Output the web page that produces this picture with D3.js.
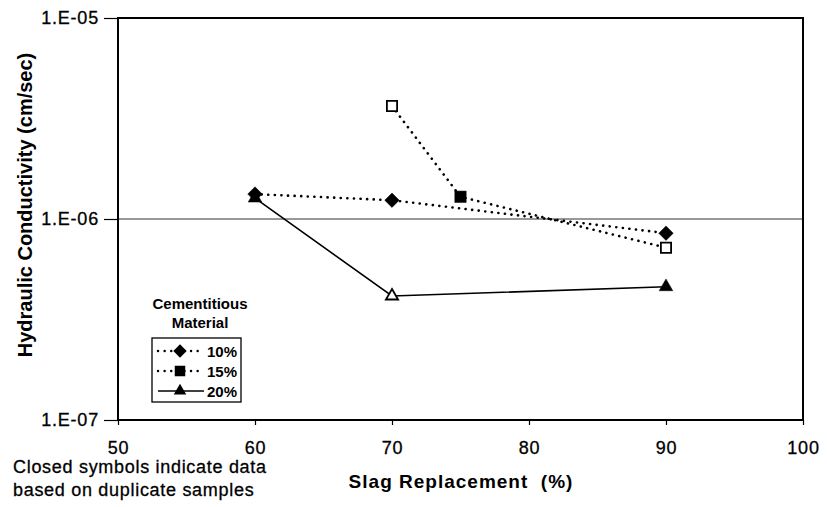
<!DOCTYPE html>
<html>
<head>
<meta charset="utf-8">
<script src="https://cdn.jsdelivr.net/npm/d3@7"></script>
<style>
  html, body { margin: 0; padding: 0; background: #fff; }
  svg { display: block; font-family: "Liberation Sans", Arial, sans-serif; }
</style>
</head>
<body>
<svg id="chart" width="827" height="507"></svg>
<script>
// Slag replacement level (%) for each series
const slag10 = [60, 70, 90];
const slag15 = [70, 75, 90];
const slag20 = [60, 70, 90];
// Hydraulic conductivity (cm/sec)
const k10 = [1.33e-6, 1.24e-6, 0.85e-6];
const k15 = [3.65e-6, 1.29e-6, 0.72e-6];
const k20 = [1.27e-6, 0.414e-6, 0.46e-6];
// Closed symbol = duplicate samples
const closed10 = [true, true, true];
const closed15 = [false, true, false];
const closed20 = [true, false, true];
const seriesNames = ["10%", "15%", "20%"];
const xTicks = [50, 60, 70, 80, 90, 100];
const yTicks = [1e-7, 1e-6, 1e-5];
const yTickLabels = ["1.E-07", "1.E-06", "1.E-05"];

const svg = d3.select("#chart");
const m = { left: 118, right: 803, top: 18, bottom: 420 };

const x = d3.scaleLinear().domain([50, 100]).range([m.left, m.right]);
const y = d3.scaleLog().domain([1e-7, 1e-5]).range([m.bottom, m.top]);

// gridline at 1E-06
svg.append("line")
  .attr("x1", m.left).attr("x2", m.right)
  .attr("y1", y(1e-6)).attr("y2", y(1e-6))
  .attr("stroke", "#333").attr("stroke-width", 1);

// plot frame
svg.append("rect")
  .attr("x", m.left).attr("y", m.top)
  .attr("width", m.right - m.left).attr("height", m.bottom - m.top)
  .attr("fill", "none").attr("stroke", "#000").attr("stroke-width", 2);

// y axis
const yAxis = d3.axisLeft(y).tickValues(yTicks)
  .tickFormat((d, i) => yTickLabels[i]).tickSize(14).tickPadding(5);
const gy = svg.append("g").attr("transform", `translate(${m.left},0)`).call(yAxis);
gy.select(".domain").remove();
gy.selectAll(".tick line").attr("stroke", "#000").attr("stroke-width", 1.2);
gy.selectAll(".tick text").attr("font-size", 18).attr("letter-spacing", 0.8)
  .attr("fill", "#000").attr("stroke", "#000").attr("stroke-width", 0.3);

// x axis
const xAxis = d3.axisBottom(x).tickValues(xTicks).tickSize(5).tickPadding(16);
const gx = svg.append("g").attr("transform", `translate(0,${m.bottom})`).call(xAxis);
gx.select(".domain").remove();
gx.selectAll(".tick line").attr("stroke", "#000").attr("stroke-width", 1.2);
gx.selectAll(".tick text").attr("font-size", 18).attr("letter-spacing", 0.8)
  .attr("fill", "#000").attr("stroke", "#000").attr("stroke-width", 0.3);

// axis titles
svg.append("text")
  .attr("transform", `translate(32,205) rotate(-90)`)
  .attr("text-anchor", "middle").attr("font-size", 20).attr("font-weight", "bold")
  .text("Hydraulic Conductivity (cm/sec)");
svg.append("text")
  .attr("x", 461).attr("y", 488).attr("text-anchor", "middle")
  .attr("font-size", 19).attr("font-weight", "bold").attr("letter-spacing", 1)
  .attr("xml:space", "preserve")
  .text("Slag Replacement  (%)");

// note below the axis
const note = svg.append("g").attr("font-size", 18).attr("letter-spacing", 0.7)
  .attr("stroke", "#000").attr("stroke-width", 0.3);
note.append("text").attr("x", 13).attr("y", 473).text("Closed symbols indicate data");
note.append("text").attr("x", 13).attr("y", 496).text("based on duplicate samples");

// rotated square for the diamond marker
const diamond = {
  draw(ctx, size) {
    const r = Math.sqrt(size) / Math.SQRT2;
    ctx.moveTo(0, -r); ctx.lineTo(r, 0); ctx.lineTo(0, r); ctx.lineTo(-r, 0); ctx.closePath();
  }
};

const series = [
  { xs: slag10, ks: k10, closed: closed10, sym: diamond, size: 105, dash: true },
  { xs: slag15, ks: k15, closed: closed15, sym: d3.symbolSquare, size: 130, dash: true },
  { xs: slag20, ks: k20, closed: closed20, sym: d3.symbolTriangle, size: 80, dash: false }
];

const line = d3.line().x(d => x(d[0])).y(d => y(d[1]));

series.forEach(s => {
  const pts = s.xs.map((v, i) => [v, s.ks[i], s.closed[i]]);
  svg.append("path").datum(pts).attr("d", line)
    .attr("fill", "none").attr("stroke", "#000")
    .attr("stroke-width", s.dash ? 2.6 : 1.6)
    .attr("stroke-dasharray", s.dash ? "0.1,6.5" : null)
    .attr("stroke-linecap", s.dash ? "round" : "butt");
  svg.selectAll(null).data(pts).enter().append("path")
    .attr("transform", d => `translate(${x(d[0])},${y(d[1])})`)
    .attr("d", d => d3.symbol().type(s.sym).size(d[2] ? s.size : s.size * 0.8)())
    .attr("fill", d => d[2] ? "#000" : "#fff")
    .attr("stroke", "#000").attr("stroke-width", d => d[2] ? 0.5 : 1.8);
});

// legend
const lg = svg.append("g");
lg.append("text").attr("x", 200).attr("y", 309).attr("text-anchor", "middle")
  .attr("font-size", 15).attr("font-weight", "bold").text("Cementitious");
lg.append("text").attr("x", 200).attr("y", 328).attr("text-anchor", "middle")
  .attr("font-size", 15).attr("font-weight", "bold").text("Material");
lg.append("rect").attr("x", 152).attr("y", 338).attr("width", 89).attr("height", 64)
  .attr("fill", "#fff").attr("stroke", "#000").attr("stroke-width", 1.3);
series.forEach((s, i) => {
  const yy = 351 + i * 20;
  lg.append("line").attr("x1", 158).attr("x2", 204).attr("y1", yy).attr("y2", yy)
    .attr("stroke", "#000").attr("stroke-width", s.dash ? 2.4 : 1.3)
    .attr("stroke-dasharray", s.dash ? "0.1,6.5" : null)
    .attr("stroke-linecap", s.dash ? "round" : "butt");
  lg.append("path").attr("transform", `translate(180,${yy})`)
    .attr("d", d3.symbol().type(s.sym).size(s.size * 0.85)()).attr("fill", "#000");
  lg.append("text").attr("x", 207).attr("y", yy + 5.5).attr("font-size", 15)
    .attr("font-weight", "bold").text(seriesNames[i]);
});
</script>
</body>
</html>
